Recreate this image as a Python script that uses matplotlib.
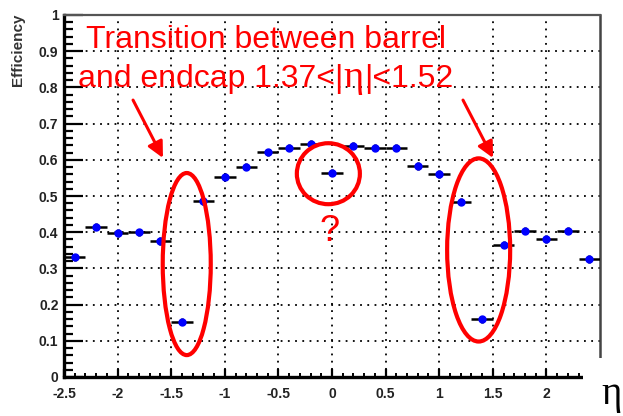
import matplotlib
matplotlib.use("Agg")
import matplotlib.pyplot as plt
from matplotlib.patches import Ellipse, Rectangle
from matplotlib.ticker import MultipleLocator
from matplotlib.transforms import IdentityTransform

# Efficiency per eta bin (bin width 0.2)
eta = [-2.4, -2.2, -2.0, -1.8, -1.6, -1.4, -1.2, -1.0, -0.8, -0.6, -0.4, -0.2, 0.0,
       0.2, 0.4, 0.6, 0.8, 1.0, 1.2, 1.4, 1.6, 1.8, 2.0, 2.2, 2.4]
efficiency = [0.331, 0.415, 0.398, 0.400, 0.376, 0.153, 0.486, 0.553, 0.581, 0.621,
              0.633, 0.644, 0.564, 0.639, 0.633, 0.633, 0.583, 0.561, 0.484, 0.159,
              0.365, 0.404, 0.381, 0.404, 0.326]
eta_halfwidth = [0.1] * 25
eff_err = [0.01] * 25

x_ticks = [-2.5, -2, -1.5, -1, -0.5, 0, 0.5, 1, 1.5, 2]
x_tick_labels = ['-2.5', '-2', '-1.5', '-1', '-0.5', '0', '0.5', '1', '1.5', '2']
y_ticks = [0, 0.1, 0.2, 0.3, 0.4, 0.5, 0.6, 0.7, 0.8, 0.9, 1.0]
y_tick_labels = ['0', '0.1', '0.2', '0.3', '0.4', '0.5', '0.6', '0.7', '0.8', '0.9', '1']

W, H = 623, 416
fig = plt.figure(figsize=(W / 100, H / 100), dpi=100)
ax = fig.add_axes([64 / W, 1 - 377 / H, 536 / W, 362 / H])
ax.set_xlim(-2.5, 2.5)
ax.set_ylim(0, 1)

# dotted grid
ax.set_axisbelow(True)
ax.grid(True, which='major', color='black', linestyle=(0, (1, 3)), linewidth=1.3)

ax.errorbar(eta, efficiency, xerr=eta_halfwidth, yerr=eff_err, fmt='o',
            color='blue', markersize=5, ecolor='black', elinewidth=1.8,
            capsize=0, zorder=3)

# axes frame
ax.spines['left'].set_linewidth(2.4)
ax.spines['bottom'].set_linewidth(2.4)
ax.spines['top'].set_color('#555555')
ax.spines['top'].set_linewidth(1.6)
ax.spines['right'].set_color('#444444')
ax.spines['right'].set_linewidth(1.8)

ax.set_xticks(x_ticks)
ax.set_xticklabels(x_tick_labels)
ax.set_yticks(y_ticks)
ax.set_yticklabels(y_tick_labels)
ax.xaxis.set_minor_locator(MultipleLocator(0.1))
ax.yaxis.set_minor_locator(MultipleLocator(0.02))
ax.tick_params(axis='y', which='major', direction='in', length=13.5, width=1.6,
               pad=4, labelsize=10, labelcolor='#222222')
ax.tick_params(axis='y', which='minor', direction='in', length=6.5, width=1.6)
ax.tick_params(axis='x', which='major', direction='in', length=6, width=1.6,
               pad=7, labelsize=10, labelcolor='#222222')
ax.tick_params(axis='x', which='minor', direction='in', length=3, width=1.4)
ax.tick_params(top=False, right=False)
for lab in ax.get_xticklabels() + ax.get_yticklabels():
    lab.set_fontfamily('Liberation Sans')
    lab.set_fontweight('bold')

fig.text(17.5 / W, 1 - 14 / H, 'Efficiency', rotation=90, ha='center', va='top',
         fontsize=11, fontweight='bold', color='#333333', family='Liberation Sans')

# annotations
red = '#ff0000'
fsize = 23
ax.text(-0.62, 0.909, 'Transition between barrel', color=red, fontsize=fsize,
        family='Liberation Sans', ha='center', va='baseline', zorder=5)

# second line: sans text with a serif eta, laid out piece by piece
renderer = fig.canvas.get_renderer()
pieces = [('and endcap 1.37<|', 'Liberation Sans', fsize),
          ('η', 'Liberation Serif', fsize * 1.2),
          ('|<1.52', 'Liberation Sans', fsize)]
cx, cy = ax.transData.transform((-0.62, 0.801))
objs = []
for s, fam, fs in pieces:
    t = fig.text(0, 0, s, color=red, fontsize=fs, family=fam, ha='left',
                 va='baseline', transform=IdentityTransform(), zorder=5)
    objs.append(t)
widths = [t.get_window_extent(renderer).width for t in objs]
x0 = cx - sum(widths) / 2
for t, w in zip(objs, widths):
    t.set_position((x0, cy))
    x0 += w

ax.text(-0.02, 0.376, '?', color=red, fontsize=26, family='Liberation Sans',
        ha='center', va='baseline', zorder=5)

arrow_kw = dict(arrowstyle='-|>', color=red, lw=2.2, mutation_scale=24,
                shrinkA=0, shrinkB=0)
ax.annotate('', xy=(-1.577, 0.605), xytext=(-1.856, 0.765), arrowprops=arrow_kw, zorder=5)
ax.annotate('', xy=(1.502, 0.605), xytext=(1.222, 0.765), arrowprops=arrow_kw, zorder=5)

for (ex, ey, w, h) in [(-1.355, 0.312, 0.448, 0.503),
                       (1.368, 0.351, 0.588, 0.506),
                       (-0.034, 0.5616, 0.588, 0.1685)]:
    ax.add_patch(Ellipse((ex, ey), w, h, fill=False, edgecolor=red, lw=3.0, zorder=4))

# blank corner holding the axis symbol
fig.patches.append(Rectangle((583 / W, 0), 1 - 583 / W, (H - 358) / H,
                             transform=fig.transFigure, facecolor='white',
                             edgecolor='none', zorder=10))
fig.text(612 / W, 3 / H, 'η', fontsize=28, family='Liberation Serif',
         ha='center', va='bottom', color='black', zorder=11)

fig.savefig('out.png', dpi=100)
